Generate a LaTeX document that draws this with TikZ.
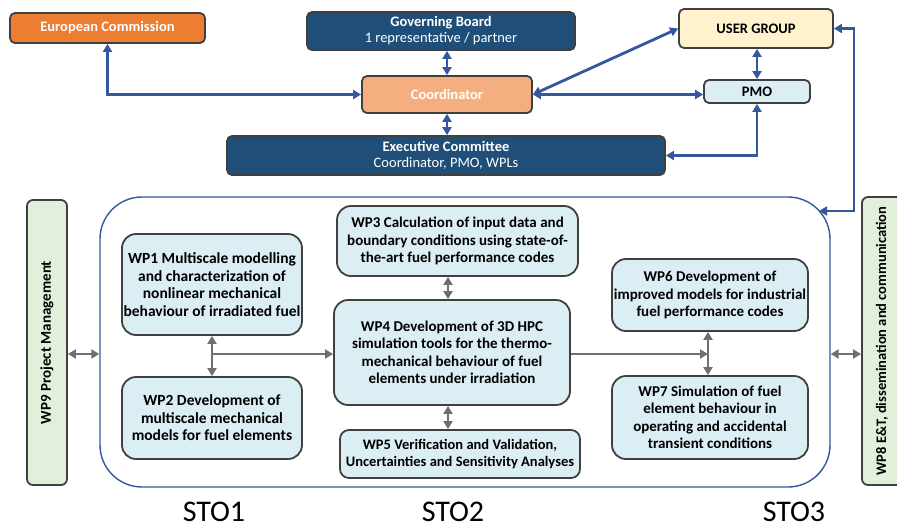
\documentclass[tikz,border=0pt]{standalone}
\usepackage{fontspec}
\setmainfont{Carlito}
\usetikzlibrary{arrows.meta,calc}
\definecolor{ecorange}{HTML}{ED7D31}
\definecolor{coordfill}{HTML}{F4AE80}
\definecolor{darkblue}{HTML}{1F4E79}
\definecolor{ugfill}{HTML}{FFF2CC}
\definecolor{lblue}{HTML}{DAEEF3}
\definecolor{lgreen}{HTML}{E2EFDA}
\definecolor{edge}{HTML}{404040}
\definecolor{arrowblue}{HTML}{3557A0}
\definecolor{arrowgray}{HTML}{6F6F6F}
\tikzset{
  x=1pt,y=-1pt,
  topbox/.style={draw=edge,line width=1.8pt,rounded corners=5pt,inner sep=1pt,align=center,font=\fontsize{14.5}{16}\selectfont},
  wpbox/.style={draw=edge,line width=1.8pt,rounded corners=14pt,fill=lblue,inner sep=1pt,align=center,font=\fontsize{15}{17.5}\selectfont\bfseries},
  sidebox/.style={draw=edge,line width=1.8pt,rounded corners=6pt,fill=lgreen,rotate=90,inner sep=1pt,align=center,font=\fontsize{15}{16}\selectfont\bfseries},
  barrow/.style={draw=arrowblue,line width=2.8pt,{Triangle[length=8pt,width=9pt]}-{Triangle[length=8pt,width=9pt]}},
  garrow/.style={draw=arrowgray,line width=2.8pt,{Triangle[length=8pt,width=9pt]}-{Triangle[length=8pt,width=9pt]}},
  garrowend/.style={draw=arrowgray,line width=2.8pt,-{Triangle[length=8pt,width=9pt]}},
  stolabel/.style={font=\fontsize{30}{32}\selectfont,inner sep=0pt,anchor=base}
}
\begin{document}
\begin{tikzpicture}
\useasboundingbox (0,0) rectangle (897,528);
% top management
\node[topbox,fill=ecorange,text=white,minimum width=195pt,minimum height=30pt,font=\fontsize{14.5}{16}\selectfont\bfseries] (ec) at (107.5,28) {European Commission};
\node[topbox,fill=darkblue,text=white,minimum width=268pt,minimum height=38pt] (gb) at (441,31) {\textbf{Governing Board}\\1 representative / partner};
\node[topbox,fill=coordfill,text=white,minimum width=170pt,minimum height=37pt,font=\fontsize{14.5}{16}\selectfont\bfseries] (coord) at (447,94.5) {Coordinator};
\node[topbox,fill=darkblue,text=white,minimum width=438pt,minimum height=39pt] (exec) at (446,155.5) {\textbf{Executive Committee}\\Coordinator, PMO, WPLs};
\node[topbox,fill=ugfill,text=black,minimum width=154pt,minimum height=39pt,font=\fontsize{14.5}{16}\selectfont\bfseries] (ug) at (756,28.5) {USER GROUP};
\node[topbox,fill=lblue,text=black,minimum width=106pt,minimum height=23pt,font=\fontsize{14.5}{16}\selectfont\bfseries] (pmo) at (757,91.5) {PMO};
% big rounded frame
\node[draw=arrowblue,line width=1.4pt,rounded corners=42pt,minimum width=730pt,minimum height=290pt,inner sep=0pt] (sto) at (465,342) {};
% side boxes
\node[sidebox,minimum width=285pt,minimum height=40pt] (wp9) at (47,342.5) {WP9 Project Management};
\node[sidebox,minimum width=288pt,minimum height=40pt,font=\fontsize{14.5}{16}\selectfont\bfseries] (wp8) at (882,341) {WP8 E\&T, dissemination and communication};
% work packages
\node[wpbox,minimum width=180pt,minimum height=101pt,font=\fontsize{15.5}{17.5}\selectfont\bfseries] (wp1) at (212,284.5) {WP1 Multiscale modelling\\and characterization of\\nonlinear mechanical\\behaviour of irradiated fuel};
\node[wpbox,minimum width=180pt,minimum height=82pt,font=\fontsize{15.5}{17.5}\selectfont\bfseries] (wp2) at (212,418) {WP2 Development of\\multiscale mechanical\\models for fuel elements};
\node[wpbox,minimum width=241pt,minimum height=70pt] (wp3) at (457.5,241) {WP3 Calculation of input data and\\boundary conditions using state-of-\\the-art fuel performance codes};
\node[wpbox,minimum width=236pt,minimum height=105pt] (wp4) at (452,352.5) {WP4 Development of 3D HPC\\simulation tools for the thermo-\\mechanical behaviour of fuel\\elements under irradiation};
\node[wpbox,rounded corners=9pt,minimum width=240pt,minimum height=48pt,font=\fontsize{14.5}{17.5}\selectfont\bfseries] (wp5) at (460,454) {WP5 Verification and Validation,\\Uncertainties and Sensitivity Analyses};
\node[wpbox,minimum width=196pt,minimum height=72pt] (wp6) at (710,295) {WP6 Development of\\improved models for industrial\\fuel performance codes};
\node[wpbox,minimum width=196pt,minimum height=83pt] (wp7) at (710,417.5) {WP7 Simulation of fuel\\element behaviour in\\operating and accidental\\transient conditions};
% STO labels
\node[stolabel] (sto1) at (214,521) {STO1};
\node[stolabel] (sto2) at (453,521) {STO2};
\node[stolabel] (sto3) at (794,521) {STO3};
% coordinates
\coordinate (j) at (212,354);
\coordinate (k) at (708,354);
\coordinate (stoin) at (819,211);
% blue connectors
\draw[barrow] (ec.south) |- (coord.west);
\draw[barrow] (coord.north) -- (coord.north |- gb.south);
\draw[barrow] (coord.south) -- (coord.south |- exec.north);
\draw[barrow] (coord.east) -- (ug.west);
\draw[barrow] (coord.east) -- (coord.east -| pmo.west);
\draw[barrow] (pmo.north) -- (pmo.north |- ug.south);
\draw[barrow] (pmo.south) |- (exec.east);
\draw[barrow] (ug.east) -- ++(20,0) |- (stoin);
% gray connectors
\draw[garrow] (wp9.south |- j) -- (sto.west |- j);
\draw[garrow] (sto.east |- j) -- (wp8.north |- j);
\draw[garrow] (wp1.south) -- (wp2.north);
\draw[garrowend] (j) -- (j -| wp4.west);
\draw[garrow] (wp4.north -| 448,0) -- (wp3.south -| 448,0);
\draw[garrow] (wp4.south -| 448,0) -- (wp5.north -| 448,0);
\draw[garrowend] (k -| wp4.east) -- (k);
\draw[garrow] (wp6.south -| k) -- (wp7.north -| k);
\end{tikzpicture}
\end{document}
